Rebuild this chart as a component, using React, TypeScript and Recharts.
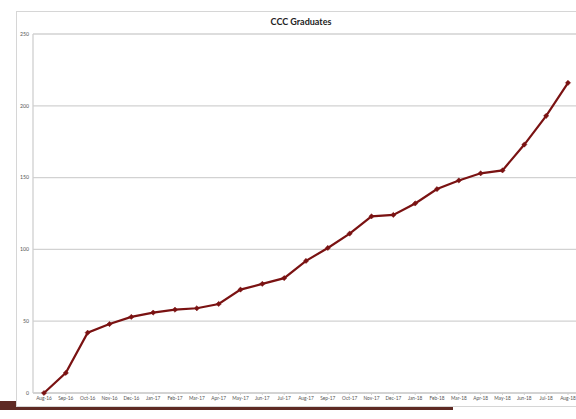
import React from "react";
import { LineChart, Line, XAxis, YAxis, CartesianGrid } from "recharts";

const months = [
  "Aug-16", "Sep-16", "Oct-16", "Nov-16", "Dec-16", "Jan-17", "Feb-17", "Mar-17", "Apr-17",
  "May-17", "Jun-17", "Jul-17", "Aug-17", "Sep-17", "Oct-17", "Nov-17", "Dec-17", "Jan-18",
  "Feb-18", "Mar-18", "Apr-18", "May-18", "Jun-18", "Jul-18", "Aug-18",
];
const graduates = [
  0, 14, 42, 48, 53, 56, 58, 59, 62, 72, 76, 80, 92, 101, 111, 123, 124, 132, 142, 148, 153, 155, 173, 193, 216,
];
const yTicks = [0, 50, 100, 150, 200, 250];
const title = "CCC Graduates";

const data = months.map((m, i) => ({ month: m, value: graduates[i] }));

const LINE = "#7a1212";

const Diamond = (props: any) => {
  const { cx, cy } = props;
  if (cx == null || cy == null) return null;
  const s = 2.6;
  return (
    <path
      d={`M${cx},${cy - s} L${cx + s},${cy} L${cx},${cy + s} L${cx - s},${cy} Z`}
      fill={LINE}
      stroke={LINE}
      strokeWidth={0.5}
    />
  );
};

export default function App() {
  return (
    <div
      style={{
        position: "absolute",
        left: 0,
        top: 0,
        width: 576,
        height: 419,
        overflow: "hidden",
        background: "#ffffff",
      }}
    >
      <div
        style={{
          position: "absolute",
          left: 0,
          top: 401,
          width: 453,
          height: 9,
          background: "#5e2a24",
        }}
      />
      <div
        style={{
          position: "absolute",
          left: 16,
          top: 11,
          width: 620,
          height: 394,
          border: "1px solid #d6d6d6",
          background: "#ffffff",
        }}
      />
      <div
        style={{
          position: "absolute",
          left: 0,
          top: 16,
          width: 602,
          textAlign: "center",
          fontFamily: "Lato, 'Open Sans', sans-serif",
          fontWeight: 700,
          fontSize: 9,
          color: "#222222",
          lineHeight: "12px",
        }}
      >
        {title}
      </div>
      <div style={{ position: "absolute", left: 0, top: 0 }}>
        <LineChart
          width={580}
          height={419}
          data={data}
          margin={{ top: 34, right: 1, bottom: 6, left: 0 }}
        >
          <CartesianGrid vertical={false} stroke="#d2d2d2" strokeWidth={1.3} />
          <XAxis
            dataKey="month"
            interval={0}
            height={20}
            padding={{ left: 11, right: 11 }}
            tick={{ fontSize: 4.8, fill: "#555555", fontFamily: "Lato, sans-serif" }}
            tickSize={2}
            tickMargin={1.5}
            axisLine={{ stroke: "#cfcfcf", strokeWidth: 1.3 }}
            tickLine={{ stroke: "#cfcfcf" }}
          />
          <YAxis
            width={33}
            domain={[0, 250]}
            ticks={yTicks}
            interval={0}
            tickSize={0}
            tickMargin={4}
            tick={{ fontSize: 5.2, fill: "#555555", fontFamily: "Lato, sans-serif" }}
            axisLine={{ stroke: "#cfcfcf", strokeWidth: 1.3 }}
            tickLine={false}
          />
          <Line
            type="linear"
            dataKey="value"
            stroke={LINE}
            strokeWidth={2.2}
            dot={<Diamond />}
            activeDot={false}
            isAnimationActive={false}
          />
        </LineChart>
      </div>
    </div>
  );
}
